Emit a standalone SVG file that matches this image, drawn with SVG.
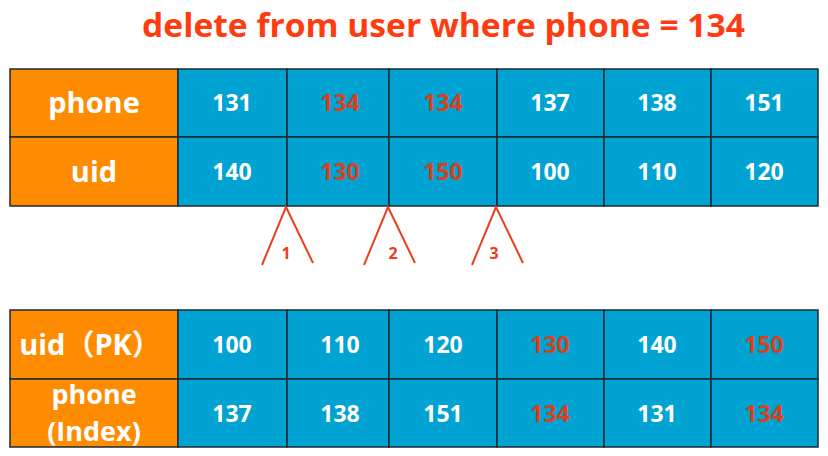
<svg xmlns="http://www.w3.org/2000/svg" width="828" height="456" viewBox="0 0 828 456">
<style>
.lab{fill:#FF8C00;stroke:#1d2a33;stroke-width:1.5}
.cell{fill:#00A3D1;stroke:#1d2a33;stroke-width:1.5}
.lt{font-family:"Open Sans","Noto Sans","Noto Sans CJK SC",sans-serif;font-weight:bold;font-size:29px;fill:#fff;text-anchor:middle}
.lt2{font-size:27px}
.nt{font-family:"Open Sans","Noto Sans",sans-serif;font-weight:bold;font-size:23px;fill:#fff;text-anchor:middle}
.red{fill:#D9401C}
.leg{stroke:#E8401C;stroke-width:2;fill:none}
.num{font-family:"Open Sans","Noto Sans",sans-serif;font-weight:bold;font-size:16px;fill:#E8401C;text-anchor:middle}
</style>
<rect width="828" height="456" fill="#fff"/>
<text x="443.5" y="37" font-family="Open Sans, Noto Sans, sans-serif" font-weight="bold" font-size="32" fill="#FF3B0F" text-anchor="middle" textLength="603" lengthAdjust="spacingAndGlyphs">delete from user where phone = 134</text>
<g id="top-table">
<rect class="lab" x="10" y="69" width="168" height="68"/>
<rect class="lab" x="10" y="137" width="168" height="69"/>
<text class="lt" x="94" y="113">phone</text>
<text class="lt" x="94" y="182">uid</text>
<rect class="cell" x="178" y="69" width="109" height="68"/>
<rect class="cell" x="287" y="69" width="102" height="68"/>
<rect class="cell" x="389" y="69" width="108" height="68"/>
<rect class="cell" x="497" y="69" width="107" height="68"/>
<rect class="cell" x="604" y="69" width="107" height="68"/>
<rect class="cell" x="711" y="69" width="107" height="68"/>
<rect class="cell" x="178" y="137" width="109" height="69"/>
<rect class="cell" x="287" y="137" width="102" height="69"/>
<rect class="cell" x="389" y="137" width="108" height="69"/>
<rect class="cell" x="497" y="137" width="107" height="69"/>
<rect class="cell" x="604" y="137" width="107" height="69"/>
<rect class="cell" x="711" y="137" width="107" height="69"/>
<text class="nt" x="232" y="111">131</text>
<text class="nt red" x="340" y="111">134</text>
<text class="nt red" x="443" y="111">134</text>
<text class="nt" x="550" y="111">137</text>
<text class="nt" x="657" y="111">138</text>
<text class="nt" x="764" y="111">151</text>
<text class="nt" x="232" y="180">140</text>
<text class="nt red" x="340" y="180">130</text>
<text class="nt red" x="443" y="180">150</text>
<text class="nt" x="550" y="180">100</text>
<text class="nt" x="657" y="180">110</text>
<text class="nt" x="764" y="180">120</text>
</g>
<g id="connectors">
<polyline class="leg" points="262,265 286,207 313,263"/>
<polyline class="leg" points="364,265 388,207 415,263"/>
<polyline class="leg" points="472,265 496,207 523,263"/>
<text class="num" x="286" y="259">1</text>
<text class="num" x="393" y="259">2</text>
<text class="num" x="494" y="259">3</text>
</g>
<g id="bottom-table">
<rect class="lab" x="10" y="310" width="168" height="69"/>
<rect class="lab" x="10" y="379" width="168" height="68"/>
<text class="lt" x="90" y="355" font-size="28">uid（PK）</text>
<text class="lt lt2" x="94" y="404">phone</text>
<text class="lt lt2" x="94" y="441">(Index)</text>
<rect class="cell" x="178" y="310" width="109" height="69"/>
<rect class="cell" x="287" y="310" width="102" height="69"/>
<rect class="cell" x="389" y="310" width="108" height="69"/>
<rect class="cell" x="497" y="310" width="107" height="69"/>
<rect class="cell" x="604" y="310" width="107" height="69"/>
<rect class="cell" x="711" y="310" width="107" height="69"/>
<rect class="cell" x="178" y="379" width="109" height="68"/>
<rect class="cell" x="287" y="379" width="102" height="68"/>
<rect class="cell" x="389" y="379" width="108" height="68"/>
<rect class="cell" x="497" y="379" width="107" height="68"/>
<rect class="cell" x="604" y="379" width="107" height="68"/>
<rect class="cell" x="711" y="379" width="107" height="68"/>
<text class="nt" x="232" y="353">100</text>
<text class="nt" x="340" y="353">110</text>
<text class="nt" x="443" y="353">120</text>
<text class="nt red" x="550" y="353">130</text>
<text class="nt" x="657" y="353">140</text>
<text class="nt red" x="764" y="353">150</text>
<text class="nt" x="232" y="422">137</text>
<text class="nt" x="340" y="422">138</text>
<text class="nt" x="443" y="422">151</text>
<text class="nt red" x="550" y="422">134</text>
<text class="nt" x="657" y="422">131</text>
<text class="nt red" x="764" y="422">134</text>
</g>
</svg>
